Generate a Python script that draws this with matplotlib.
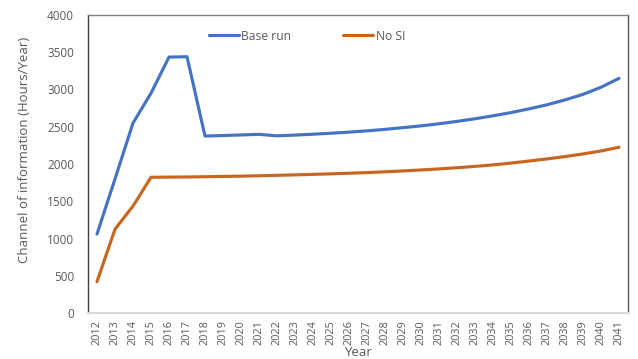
import matplotlib.pyplot as plt

plt.rcParams['font.family'] = ['Open Sans', 'DejaVu Sans']

years = list(range(2012, 2042))

base_run = [1060, 1800, 2550, 2950, 3435, 3440, 2375, 2382, 2390, 2398, 2378,
            2388, 2400, 2413, 2428, 2445, 2465, 2488, 2512, 2540, 2572,
            2607, 2647, 2690, 2740, 2795, 2860, 2935, 3030, 3150]
no_si = [420, 1125, 1435, 1822, 1824, 1826, 1829, 1833, 1837, 1842, 1848,
         1854, 1861, 1868, 1876, 1885, 1895, 1907, 1920, 1934, 1950,
         1968, 1988, 2012, 2040, 2068, 2100, 2135, 2175, 2225]

BLUE = "#4472C4"
ORANGE = "#C8651E"
GRAY = "#595959"

fig = plt.figure(figsize=(6.38, 3.59), dpi=100)
ax = fig.add_axes([88 / 638, 1 - 313 / 359, 540 / 638, 298 / 359])

ax.plot(years, base_run, color=BLUE, linewidth=2.25, label="Base run",
        solid_capstyle="round")
ax.plot(years, no_si, color=ORANGE, linewidth=2.25, label="No SI",
        solid_capstyle="round")

ax.set_xlim(2011.5, 2041.5)
ax.set_ylim(0, 4000)
ax.set_yticks(range(0, 4001, 500))
ax.set_xticks(years)
ax.set_xticklabels([str(y) for y in years], rotation=90)
ax.tick_params(length=0, labelcolor=GRAY)
ax.tick_params(axis="y", pad=10, labelsize=8.5)
ax.tick_params(axis="x", pad=5, labelsize=7.8)

ax.spines['left'].set_color("#404040")
ax.spines['top'].set_color("#808080")
ax.spines['right'].set_color("#595959")
ax.spines['bottom'].set_color("#d9d9d9")
for s in ax.spines.values():
    s.set_linewidth(1.0)
ax.spines['bottom'].set_linewidth(1.5)

ax.set_xlabel("Year", fontsize=9.5, color=GRAY)
ax.xaxis.set_label_coords((358 - 88) / 540, (313 - 352) / 298)
ax.xaxis.label.set_va("center")
ax.set_ylabel("Channel of information (Hours/Year)", fontsize=9.5, color=GRAY)
ax.yaxis.set_label_coords((25 - 88) / 540, (313 - 150) / 298)
ax.yaxis.label.set_va("center")

ax.legend(loc="center", bbox_to_anchor=((307 - 88) / 540, (313 - 36) / 298),
          ncol=2, frameon=False, fontsize=8.7, labelcolor=GRAY,
          handlelength=2.5, handletextpad=0.2, columnspacing=4.3,
          bbox_transform=ax.transAxes)

fig.savefig("out.png", dpi=100)
